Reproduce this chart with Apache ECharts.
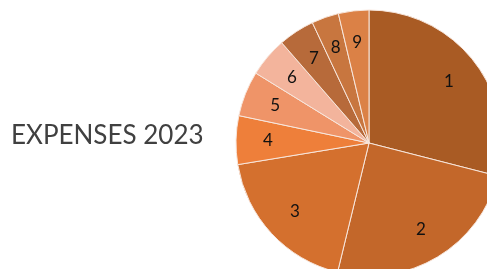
<!DOCTYPE html>
<html>
<head>
<meta charset="utf-8">
<script src="https://cdn.jsdelivr.net/npm/echarts@6/dist/echarts.min.js"></script>
<style>
html, body { margin: 0; padding: 0; background: #fff; }
#main { width: 487px; height: 269px; }
</style>
</head>
<body>
<div id="main"></div>
<script>
var categories = ['1', '2', '3', '4', '5', '6', '7', '8', '9'];
var values = [29.0, 24.8, 18.6, 5.9, 5.5, 4.8, 4.4, 3.3, 3.7];
var colors = ['#A95B24', '#C3672A', '#D4702E', '#EE7F3A', '#EF9468', '#F3B49C', '#B76A3A', '#C8763F', '#DB8146'];

var pieData = categories.map(function (c, i) {
    return { name: c, value: values[i], itemStyle: { color: colors[i] } };
});

var Chart = echarts.init(document.getElementById('main'));
option = {
    animation: false,
    title: {
        text: 'EXPENSES 2023',
        left: 6,
        top: 118,
        textStyle: {
            fontFamily: 'Lato',
            fontWeight: 'normal',
            fontSize: 26,
            color: '#404040'
        }
    },
    series: [{
        type: 'pie',
        center: [369, 143],
        radius: [0, 133],
        startAngle: 90,
        clockwise: true,
        data: pieData,
        label: { show: false },
        labelLine: { show: false },
        itemStyle: {
            borderColor: '#f7e6dc',
            borderWidth: 1
        }
    },
    {
        // label ring only, same angles
        type: 'pie',
        silent: true,
        center: [369, 143],
        radius: [63, 133],
        startAngle: 90,
        clockwise: true,
        data: categories.map(function (c, i) {
            return { name: c, value: values[i], itemStyle: { color: 'transparent' } };
        }),
        label: {
            show: true,
            position: 'inside',
            formatter: '{b}',
            fontFamily: 'Lato',
            fontSize: 17,
            color: '#111'
        },
        labelLine: { show: false }
    }]
};
Chart.setOption(option);
</script>
</body>
</html>
